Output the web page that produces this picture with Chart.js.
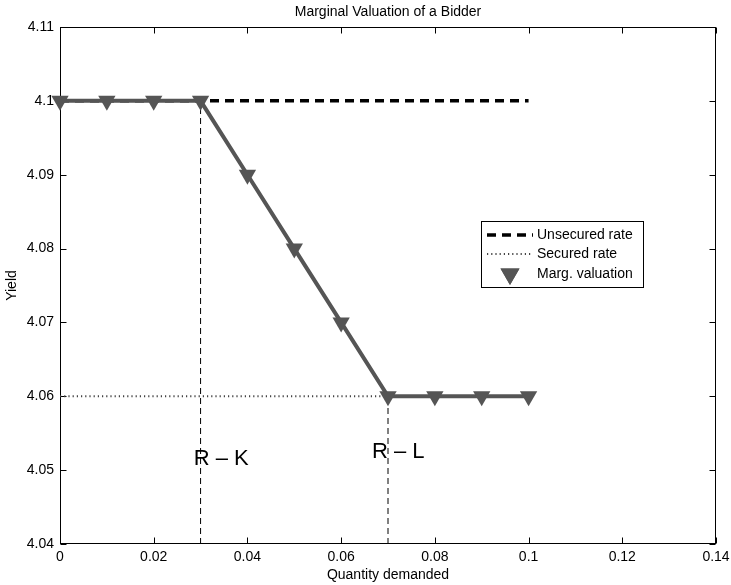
<!DOCTYPE html>
<html><head><meta charset="utf-8">
<script src="https://cdn.jsdelivr.net/npm/chart.js@4/dist/chart.umd.min.js"></script>
<style>html,body{margin:0;padding:0;background:#fff}canvas{display:block}</style>
</head><body>
<canvas id="c" width="731" height="585"></canvas>
<script>
const quantity = [0, 0.01, 0.02, 0.03, 0.04, 0.05, 0.06, 0.07, 0.08, 0.09, 0.1];
const margValuation = [4.1, 4.1, 4.1, 4.1, 4.09, 4.08, 4.07, 4.06, 4.06, 4.06, 4.06];
const unsecuredX = [0, 0.1];
const unsecuredY = [4.1, 4.1];
const securedX = [0, 0.1];
const securedY = [4.06, 4.06];
const guideX = [0.03, 0.07];
const guideTop = [4.1, 4.06];
const guideBottom = [4.04, 4.04];
const xTickValues = [0, 0.02, 0.04, 0.06, 0.08, 0.1, 0.12, 0.14];
const xTickLabels = ['0', '0.02', '0.04', '0.06', '0.08', '0.1', '0.12', '0.14'];
const yTickValues = [4.04, 4.05, 4.06, 4.07, 4.08, 4.09, 4.1, 4.11];
const yTickLabels = ['4.04', '4.05', '4.06', '4.07', '4.08', '4.09', '4.1', '4.11'];
const noteTexts = ['R \u2013 K', 'R \u2013 L'];
const noteX = [0.0344, 0.0722];
const noteY = [4.0515, 4.0525];
const seriesNames = ['Unsecured rate', 'Secured rate', 'Marg. valuation'];
const chartTitle = 'Marginal Valuation of a Bidder';

const FONT = '"Liberation Sans", Arial, Helvetica, sans-serif';
Chart.defaults.font.family = FONT;
Chart.defaults.color = '#000';

function pts(xs, ys) { return xs.map((v, i) => ({x: v, y: ys[i]})); }

const framePlugin = {
  id: 'frame',
  beforeDraw(chart) {
    const ctx = chart.ctx;
    ctx.save(); ctx.fillStyle = '#fff'; ctx.fillRect(0, 0, chart.width, chart.height); ctx.restore();
  },
  beforeDatasetsDraw(chart) {
    const {ctx, chartArea: a, scales: {x, y}} = chart;
    const L = Math.round(a.left) + 0.5, R = Math.round(a.right) - 0.5;
    const T = Math.round(a.top) + 0.5, B = Math.round(a.bottom) - 0.5;
    ctx.save();
    ctx.strokeStyle = '#000'; ctx.lineWidth = 1;
    ctx.strokeRect(L, T, R - L, B - T);
    ctx.beginPath();
    const tl = 6;
    xTickValues.forEach(v => {
      const px = Math.round(x.getPixelForValue(v)) + 0.5;
      ctx.moveTo(px, B); ctx.lineTo(px, B - tl);
      ctx.moveTo(px, T); ctx.lineTo(px, T + tl);
    });
    yTickValues.forEach(v => {
      const py = Math.round(y.getPixelForValue(v)) + 0.5;
      ctx.moveTo(L, py); ctx.lineTo(L + tl, py);
      ctx.moveTo(R, py); ctx.lineTo(R - tl, py);
    });
    ctx.stroke();
    ctx.fillStyle = '#000';
    ctx.font = '14px ' + FONT;
    ctx.textAlign = 'center';
    ctx.textBaseline = 'middle';
    ctx.fillText(chartTitle, (a.left + a.right) / 2, 12.5);
    ctx.restore();
  }
};

function drawTri(ctx, cx, cy, r, color) {
  ctx.save();
  ctx.fillStyle = color;
  Chart.helpers.drawPoint(ctx, {pointStyle: 'triangle', rotation: 180, radius: r, borderWidth: 0}, cx, cy);
  ctx.fill();
  ctx.restore();
}

const overlayPlugin = {
  id: 'overlay',
  afterDraw(chart) {
    const {ctx, chartArea: a, scales: {x, y}} = chart;
    ctx.save();
    ctx.fillStyle = '#000';
    ctx.font = '22px ' + FONT;
    ctx.textAlign = 'center';
    ctx.textBaseline = 'middle';
    noteTexts.forEach((t, i) => ctx.fillText(t, x.getPixelForValue(noteX[i]), y.getPixelForValue(noteY[i])));
    const bx = a.right - 235, by = a.top + 194, bw = 162, bh = 66;
    ctx.fillStyle = '#fff';
    ctx.fillRect(bx, by, bw, bh);
    ctx.strokeStyle = '#000'; ctx.lineWidth = 1;
    ctx.strokeRect(bx + 0.5, by + 0.5, bw, bh);
    const rows = [by + 14, by + 33, by + 53];
    const x0 = bx + 6, x1 = bx + 52;
    ctx.lineWidth = 3.5; ctx.strokeStyle = '#000'; ctx.setLineDash([9, 6]);
    ctx.beginPath(); ctx.moveTo(x0, rows[0]); ctx.lineTo(x1, rows[0]); ctx.stroke();
    ctx.lineWidth = 2; ctx.strokeStyle = '#444'; ctx.setLineDash([1.2, 3]);
    ctx.beginPath(); ctx.moveTo(x0, rows[1]); ctx.lineTo(x1, rows[1]); ctx.stroke();
    ctx.setLineDash([]);
    drawTri(ctx, (x0 + x1) / 2, rows[2], 11, '#555');
    ctx.fillStyle = '#000';
    ctx.font = '14px ' + FONT;
    ctx.textAlign = 'left';
    ctx.textBaseline = 'middle';
    seriesNames.forEach((n, i) => ctx.fillText(n, bx + 56, rows[i] + 0.5));
    ctx.restore();
  }
};

const datasets = [
  {label: seriesNames[2], data: pts(quantity, margValuation), showLine: true,
   borderColor: '#555', backgroundColor: '#555', borderWidth: 4,
   pointStyle: 'triangle', rotation: 180, pointRadius: 10, pointHoverRadius: 10,
   pointBorderWidth: 0, pointBorderColor: '#555', pointBackgroundColor: '#555', clip: false, order: 0},
  {label: seriesNames[0], data: pts(unsecuredX, unsecuredY), showLine: true,
   borderColor: '#000', borderWidth: 3.5, borderDash: [9, 6], pointRadius: 0, order: 2},
  {label: seriesNames[1], data: pts(securedX, securedY), showLine: true,
   borderColor: '#444', borderWidth: 2, borderDash: [1.2, 3], pointRadius: 0, order: 3}
];
guideX.forEach((gx, i) => {
  datasets.push({label: 'guide' + i, data: pts([gx, gx], [guideBottom[i], guideTop[i]]), showLine: true,
    borderColor: '#000', borderWidth: 1, borderDash: [6, 4], pointRadius: 0, order: 4 + i});
});

new Chart(document.getElementById('c'), {
  type: 'scatter',
  data: {datasets},
  options: {
    responsive: false, animation: false, devicePixelRatio: 1, events: [],
    layout: {padding: {left: 0, right: 15, top: 27, bottom: 0}},
    plugins: {
      legend: {display: false}, tooltip: {enabled: false}, title: {display: false}
    },
    scales: {
      x: {type: 'linear', min: 0, max: 0.14,
        grid: {display: false, drawTicks: false}, border: {display: false},
        afterBuildTicks: s => { s.ticks = xTickValues.map(v => ({value: v})); },
        afterFit: s => { s.height = 41; s.paddingLeft = 0; s.paddingRight = 0; },
        ticks: {color: '#000', font: {size: 14}, padding: 5, maxRotation: 0, autoSkip: false,
          callback: (v, i) => xTickLabels[i]},
        title: {display: true, text: 'Quantity demanded', color: '#000', font: {size: 14}, padding: {top: 0, bottom: 1}}
      },
      y: {type: 'linear', min: 4.04, max: 4.11,
        grid: {display: false, drawTicks: false}, border: {display: false},
        afterBuildTicks: s => { s.ticks = yTickValues.map(v => ({value: v})); },
        afterFit: s => { s.width = 60; s.paddingTop = 0; s.paddingBottom = 0; },
        ticks: {color: '#000', font: {size: 14}, padding: 6, autoSkip: false,
          callback: (v, i) => yTickLabels[i]},
        title: {display: true, text: 'Yield', color: '#000', font: {size: 14}, padding: {top: 3.5, bottom: 0}}
      }
    }
  },
  plugins: [framePlugin, overlayPlugin]
});
</script>
</body></html>
